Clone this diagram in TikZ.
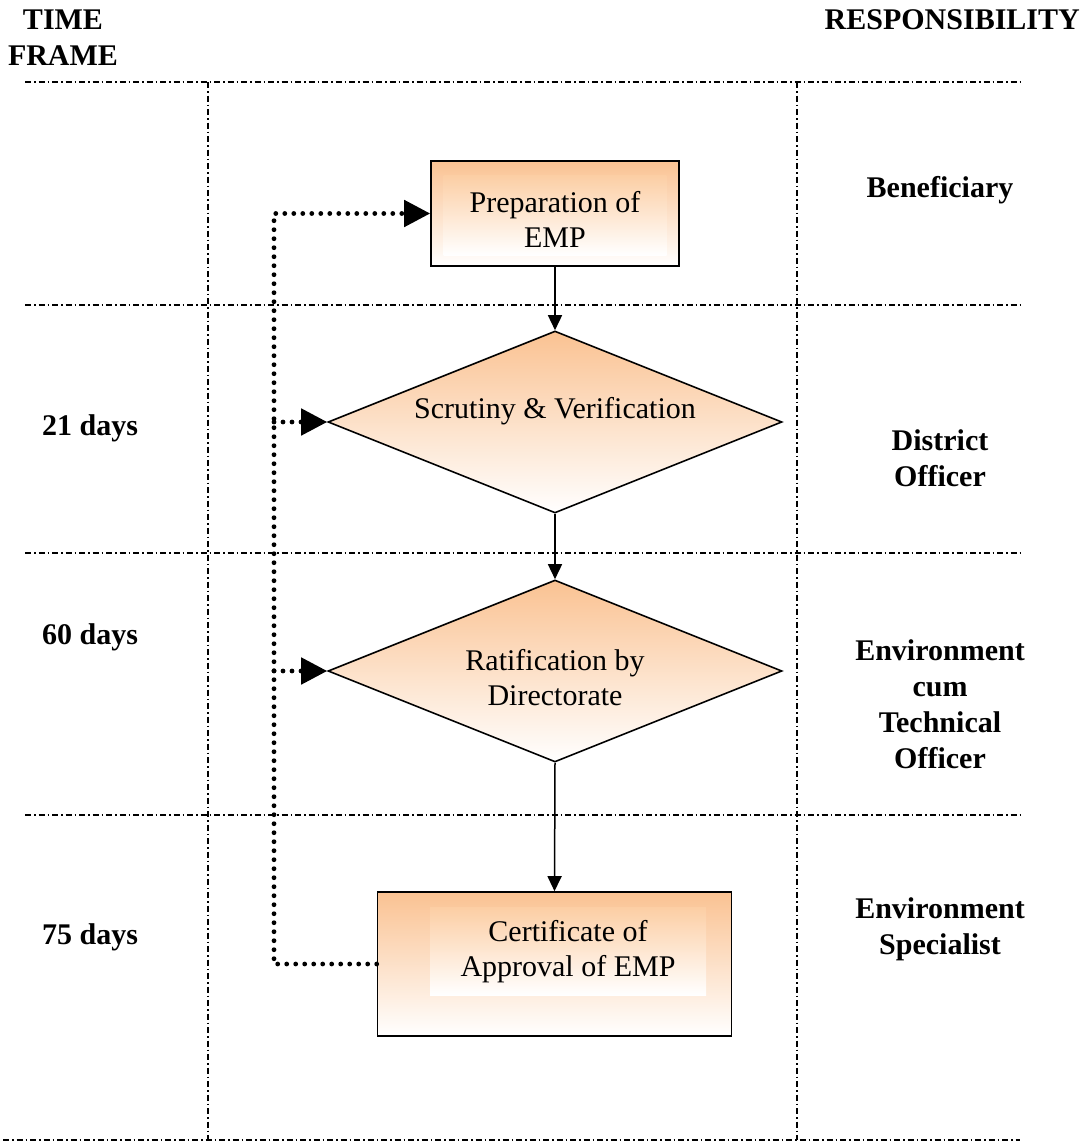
\documentclass[tikz,border=0pt]{standalone}
\usepackage{fontspec}
\setmainfont{Liberation Serif}
\usetikzlibrary{arrows.meta,shapes.geometric}
\definecolor{peach}{RGB}{250,194,146}
\definecolor{peachin}{RGB}{252,206,164}
\begin{document}
\begin{tikzpicture}[x=1pt,y=-1pt,
  grid/.style={line width=1.4pt, dash pattern=on 6pt off 3pt on 1.5pt off 3pt},
  procbox/.style={draw, line width=1.6pt, top color=peach, bottom color=white, inner sep=0pt},
  innerbox/.style={top color=peachin, bottom color=white, inner sep=0pt},
  dia/.style={diamond, draw, line width=1.6pt, top color=peach, bottom color=white, inner sep=0pt},
  flow/.style={line width=1.5pt, -{Triangle[length=15pt,width=14pt]}},
  fb/.style={line width=4.8pt, line cap=round, dash pattern=on 0pt off 9pt},
  fbarrow/.style={fb, -{Triangle[length=26pt,width=26pt]}},
  lbl/.style={font=\fontsize{30}{36}\selectfont\bfseries, align=center, inner sep=0pt},
  txt/.style={font=\fontsize{30}{35}\selectfont, align=center, inner sep=0pt}]
\useasboundingbox (0,0) rectangle (1089,1143);

% grid
\foreach \yy in {82,305,553,815} \draw[grid] (25,\yy) -- (1020,\yy);
\draw[grid] (3,1140) -- (1020,1140);
\draw[grid] (208,82) -- (208,1140);
\draw[grid] (797,82) -- (797,1140);

% headers
\node[lbl] (hTime) at (63,38) {TIME\\FRAME};
\node[lbl, anchor=east] (hResp) at (1080,20) {RESPONSIBILITY};

% time frames
\node[lbl] (t21) at (90,428) {21 days};
\node[lbl] (t60) at (90,637) {60 days};
\node[lbl] (t75) at (90,937) {75 days};

% responsibilities
\node[lbl] (rBen) at (940,190) {Beneficiary};
\node[lbl] (rDist) at (940,458) {District\\Officer};
\node[lbl] (rEnv) at (940,704) {Environment\\cum\\Technical\\Officer};
\node[lbl] (rSpec) at (940,929) {Environment\\Specialist};

% process shapes
\node[procbox, minimum width=248pt, minimum height=105pt] (prep) at (555,213.5) {};
\node[innerbox, minimum width=223pt, minimum height=80pt] (prepIn) at (555,215) {};
\node[txt] (prepT) at (555,219) {Preparation of\\EMP};

\node[dia, minimum width=454pt, minimum height=182pt] (scr) at (555,422) {};
\node[txt] (scrT) at (555,411) {Scrutiny \& Verification};

\node[dia, minimum width=454pt, minimum height=182pt] (rat) at (555,671) {};
\node[txt] (ratT) at (555,678) {Ratification by\\Directorate};

\node[procbox, minimum width=354pt, minimum height=144pt] (cert) at (554.5,964) {};
\node[innerbox, minimum width=276pt, minimum height=88pt] (certIn) at (568,951) {};
\node[txt] (certT) at (568,952) {Certificate of\\Approval of EMP};

% main flow
\draw[flow] (prep.south) -- (scr.north);
\draw[flow] (scr.south) -- (rat.north);
\draw[flow] (rat.south) -- (cert.north);

% feedback loop
\coordinate (jBot) at (274,964);
\coordinate (jScr) at (274,422);
\coordinate (jRat) at (274,671);
\draw[fbarrow] (cert.west) -- (jBot) |- (prep.west);
\draw[fbarrow] (jScr) -- (scr.west);
\draw[fbarrow] (jRat) -- (rat.west);
\end{tikzpicture}
\end{document}
